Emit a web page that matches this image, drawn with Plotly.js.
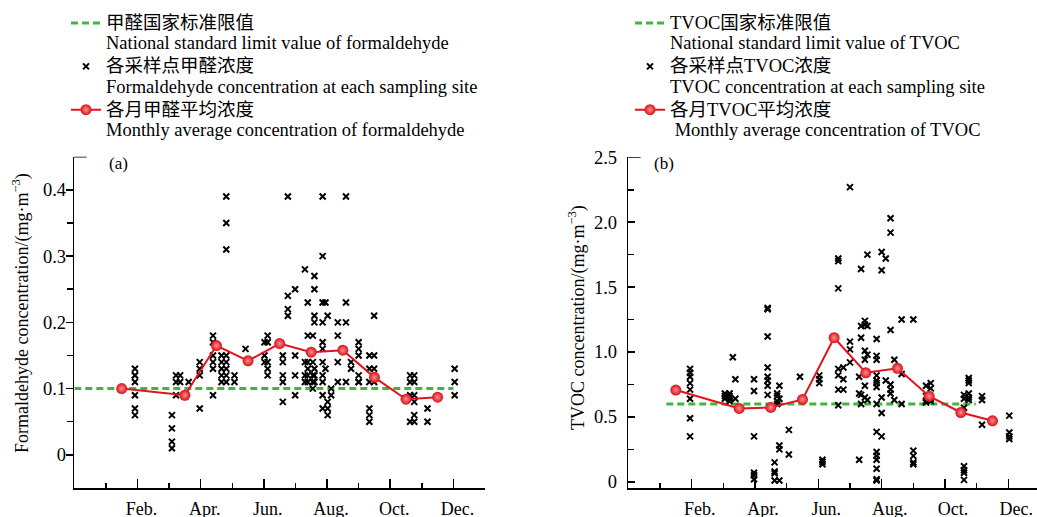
<!DOCTYPE html>
<html>
<head>
<meta charset="utf-8">
<script src="https://cdn.plot.ly/plotly-3.0.1.min.js"></script>
<style>html,body{margin:0;padding:0;background:#fff;}#chart{width:1037px;height:517px;}</style>
</head>
<body>
<div id="chart"></div>
<script>
// ---------- data ----------
const monthTickVals = [2, 4, 6, 8, 10, 12];
const monthTickText = ['Feb.', 'Apr.', 'Jun.', 'Aug.', 'Oct.', 'Dec.'];

const meanMonths = [1.5, 3.5, 4.5, 5.5, 6.5, 7.5, 8.5, 9.5, 10.5, 11.5];
const hchoMean = [0.100, 0.090, 0.165, 0.142, 0.168, 0.155, 0.158, 0.117, 0.084, 0.087];
const tvocMean = [0.707, 0.565, 0.573, 0.635, 1.11, 0.84, 0.874, 0.66, 0.534, 0.47];

const hchoLimit = 0.1;
const hchoLimitSpan = [0, 12];
const tvocLimit = 0.6;
const tvocLimitSpan = [1.2, 10.97];

const hchoSiteX = [1.92, 3.09, 3.22, 3.35, 3.62, 3.97, 4.39, 4.66, 4.81, 5.07, 5.42, 6.02, 6.12, 6.60, 6.76, 6.99, 7.30, 7.39, 7.55, 7.60, 7.86, 7.95, 8.02, 8.13, 8.34, 8.60, 8.76, 9.00, 9.34, 9.49, 10.63, 10.76, 11.18, 12.04];
const hchoSiteY = [
  [0.13,0.12,0.12,0.11,0.09,0.07,0.06],
  [0.06,0.04,0.02,0.01],
  [0.12,0.11,0.09],
  [0.12,0.11],
  [0.11],
  [0.14,0.13,0.12,0.07],
  [0.18,0.17,0.15,0.14,0.13,0.09],
  [0.15,0.14,0.13,0.12,0.11],
  [0.39,0.35,0.31,0.15,0.14,0.13,0.12,0.11],
  [0.12,0.11],
  [0.16],
  [0.17,0.15,0.14],
  [0.18,0.17,0.14,0.13,0.12],
  [0.15,0.14,0.12,0.11,0.08],
  [0.39,0.24,0.22,0.21],
  [0.25,0.15,0.12,0.09],
  [0.28,0.14,0.12,0.11],
  [0.23,0.18,0.14,0.13,0.12,0.11],
  [0.18,0.14,0.12,0.11,0.10],
  [0.27,0.25,0.21,0.20,0.13,0.12,0.11],
  [0.39,0.30,0.23,0.20,0.17,0.16,0.14,0.12,0.11,0.09,0.07],
  [0.23,0.13],
  [0.21,0.08,0.07,0.06],
  [0.10,0.09],
  [0.20,0.18,0.14,0.11],
  [0.39,0.23,0.20,0.11],
  [0.14,0.13],
  [0.17,0.16,0.15,0.12,0.11,0.11],
  [0.15,0.13,0.11,0.07,0.06,0.05],
  [0.21,0.15,0.13,0.11],
  [0.12,0.11,0.09,0.05],
  [0.12,0.11,0.09,0.08,0.06,0.05],
  [0.07,0.05],
  [0.13,0.11,0.09]
];

const tvocSiteX = [1.95, 3.05, 3.2, 3.3, 3.38, 3.97, 4.40, 4.62, 4.70, 4.77, 5.07, 5.42, 6.03, 6.13, 6.63, 6.79, 7.0, 7.29, 7.35, 7.47, 7.55, 7.84, 8.0, 8.13, 8.28, 8.4, 8.63, 9.0, 9.4, 9.55, 10.6, 10.75, 11.17, 12.03];
const tvocSiteY = [
  [0.87,0.84,0.81,0.76,0.71,0.64,0.49,0.35],
  [0.68,0.66,0.64],
  [0.68,0.66,0.64,0.62],
  [0.96],
  [0.79,0.64],
  [0.79,0.70,0.35,0.07,0.05,0.02],
  [1.34,1.33,1.12,0.88,0.81,0.78,0.74,0.67],
  [0.15,0.08,0.065,0.01],
  [0.68,0.66,0.62,0.60],
  [0.74,0.64,0.28,0.25,0.01],
  [0.40,0.21],
  [0.81],
  [0.82,0.79,0.76],
  [0.17,0.155,0.135],
  [1.72,1.70,1.49,0.87,0.82,0.71,0.59],
  [0.88,0.79,0.71],
  [2.27,1.08,1.02,0.92],
  [0.81,0.68,0.17],
  [1.64,1.20,1.11,0.67,0.60],
  [1.24,1.21,1.01,0.94,0.74,0.65],
  [1.75,1.20,0.98,0.63],
  [1.10,0.97,0.94,0.82,0.78,0.76,0.73,0.60,0.385,0.23,0.20,0.17,0.10,0.02,0.01],
  [1.77,1.63,0.65,0.53,0.35],
  [1.72,0.78],
  [2.03,1.92,1.17,0.75,0.71,0.68],
  [0.94,0.63],
  [1.25,0.83,0.60],
  [1.25,0.24,0.20,0.15,0.135],
  [0.74,0.66,0.62,0.61],
  [0.76,0.72,0.64,0.62],
  [0.67,0.64,0.57,0.12,0.09,0.07,0.015],
  [0.80,0.78,0.76,0.68,0.65,0.63],
  [0.66,0.63,0.44],
  [0.51,0.38,0.35,0.33]
];

const namesA = [
  ['甲醛国家标准限值', 'National standard limit value of formaldehyde'],
  ['各采样点甲醛浓度', 'Formaldehyde concentration at each sampling site'],
  ['各月甲醛平均浓度', 'Monthly average concentration of formaldehyde']
];
const namesB = [
  ['TVOC国家标准限值', 'National standard limit value of TVOC'],
  ['各采样点TVOC浓度', 'TVOC concentration at each sampling site'],
  ['各月TVOC平均浓度', '\u00a0Monthly average concentration of TVOC']
];

// ---------- helpers ----------
function flatten(xs, ys) {
  const X = [], Y = [];
  xs.forEach((x, i) => ys[i].forEach(v => { X.push(x); Y.push(v); }));
  return [X, Y];
}
const FONT = '"Liberation Serif", "Times New Roman", "Noto Sans CJK SC", serif';
const GREEN = '#3cb93c', RED = '#e3121c';
const legendName = pair => pair.map(s => '<span style="font-size:18.5px">' + s + '</span>').join('<br>');

const [hx, hy] = flatten(hchoSiteX, hchoSiteY);
const [tx, ty] = flatten(tvocSiteX, tvocSiteY);

function panelTraces(xa, ya, leg, names, limit, span, sx, sy, means) {
  return [
    {x: span, y: [limit, limit], xaxis: xa, yaxis: ya, legend: leg, name: legendName(names[0]),
     mode: 'lines', line: {color: GREEN, width: 3, dash: '7px,4px'}, hoverinfo: 'skip'},
    {x: sx, y: sy, xaxis: xa, yaxis: ya, legend: leg, name: legendName(names[1]),
     mode: 'markers', marker: {symbol: 'x-thin-open', size: 6, color: '#000', line: {color: '#000', width: 2}}},
    {x: meanMonths, y: means, xaxis: xa, yaxis: ya, legend: leg, name: legendName(names[2]),
     mode: 'lines+markers', line: {color: RED, width: 2},
     marker: {symbol: 'circle', size: 11, color: '#d80f18', gradient: {type: 'radial', color: '#ff8f8f'}, line: {width: 0}}}
  ];
}

const data = [].concat(
  panelTraces('x', 'y', 'legend', namesA, hchoLimit, hchoLimitSpan, hx, hy, hchoMean),
  panelTraces('x2', 'y2', 'legend2', namesB, tvocLimit, tvocLimitSpan, tx, ty, tvocMean)
);

const W = 1037, H = 517;
const px = v => v / W, py = v => (H - v) / H;

function xAxis(domain, range, shift, anchor) {
  return {
    anchor: anchor, domain: domain, range: range, showgrid: false, zeroline: false,
    showline: true, linecolor: '#000', linewidth: 1.5,
    tickmode: 'array', tickvals: monthTickVals, ticktext: monthTickText,
    ticks: 'inside', ticklen: 9, tickwidth: 1.5, tickcolor: '#000',
    ticklabelstandoff: 4, ticklabelshift: shift,
    minor: {tickmode: 'array', tickvals: [1, 3, 5, 7, 9, 11, 13], ticks: 'inside', ticklen: 5, tickwidth: 1.5, tickcolor: '#000'},
    tickfont: {family: FONT, size: 18, color: '#000'}, fixedrange: true
  };
}
function yAxis(domain, range, vals, text, minorVals, tickside, anchor, standoff) {
  return {
    anchor: anchor, domain: domain, range: range, showgrid: false, zeroline: false,
    showline: true, linecolor: '#000', linewidth: 1.5,
    tickmode: 'array', tickvals: vals, ticktext: text,
    ticks: tickside, ticklen: 7, tickwidth: 1.5, tickcolor: '#000',
    ticklabelstandoff: standoff,
    minor: {tickmode: 'array', tickvals: minorVals, ticks: tickside, ticklen: 6, tickwidth: 1.5, tickcolor: '#000'},
    tickfont: {family: FONT, size: 18.5, color: '#000'}, fixedrange: true
  };
}

const legendBase = {
  yanchor: 'top', xanchor: 'left', bgcolor: 'rgba(0,0,0,0)', borderwidth: 0,
  font: {family: FONT, size: 15.5, color: '#000'}, valign: 'top', tracegroupgap: 0,
  itemwidth: 30, traceorder: 'normal'
};

const annFont = {family: FONT, size: 17, color: '#000'};
const titleFont = {family: FONT, size: 18, color: '#000'};
const layout = {
  width: W, height: H, margin: {l: 0, r: 0, t: 0, b: 0},
  paper_bgcolor: '#fff', plot_bgcolor: '#fff', showlegend: true,
  font: {family: FONT, color: '#000'},
  xaxis: xAxis([px(74.3), px(485)], [0, 13], 4, 'y'),
  yaxis: yAxis([29 / H, (H - 156.7) / H], [-0.05, 0.45],
    [0, 0.1, 0.2, 0.3, 0.4], ['0', '0.1', '0.2', '0.3', '0.4'], [0.05, 0.15, 0.25, 0.35], 'outside', 'x', -4),
  xaxis2: xAxis([px(628.3), 1], [0, 12.905], 8, 'y2'),
  yaxis2: yAxis([28.7 / H, (H - 157.3) / H], [-0.05, 2.5],
    [0, 0.5, 1, 1.5, 2, 2.5], ['0', '0.5', '1.0', '1.5', '2.0', '2.5'], [0.25, 0.75, 1.25, 1.75, 2.25], 'inside', 'x2', 6),
  legend: Object.assign({}, legendBase, {x: px(66), y: py(6.5)}),
  legend2: Object.assign({}, legendBase, {x: px(630), y: py(6.5)}),
  annotations: [
    {text: '(a)', xref: 'paper', yref: 'paper', x: px(118), y: py(163), xanchor: 'center', yanchor: 'middle',
     showarrow: false, font: annFont},
    {text: '(b)', xref: 'paper', yref: 'paper', x: px(664), y: py(163), xanchor: 'center', yanchor: 'middle',
     showarrow: false, font: annFont},
    {text: 'Formaldehyde concentration/(mg·m<sup>−3</sup>)', xref: 'paper', yref: 'paper',
     x: px(21), y: py(313), xanchor: 'center', yanchor: 'middle', textangle: -90, showarrow: false, font: titleFont},
    {text: 'TVOC concentration/(mg·m<sup>−3</sup>)', xref: 'paper', yref: 'paper',
     x: px(577), y: py(318), xanchor: 'center', yanchor: 'middle', textangle: -90, showarrow: false, font: titleFont}
  ],
  shapes: [
    {type: 'line', xref: 'x domain', yref: 'y', x0: 0, x1: 0.03, y0: 0.45, y1: 0.45, line: {color: '#000', width: 1.5}},
    {type: 'line', xref: 'x2 domain', yref: 'y2', x0: 0, x1: 0.03, y0: 2.5, y1: 2.5, line: {color: '#000', width: 1.5}}
  ]
};

Plotly.newPlot('chart', data, layout, {displayModeBar: false, staticPlot: true});
</script>
</body>
</html>
